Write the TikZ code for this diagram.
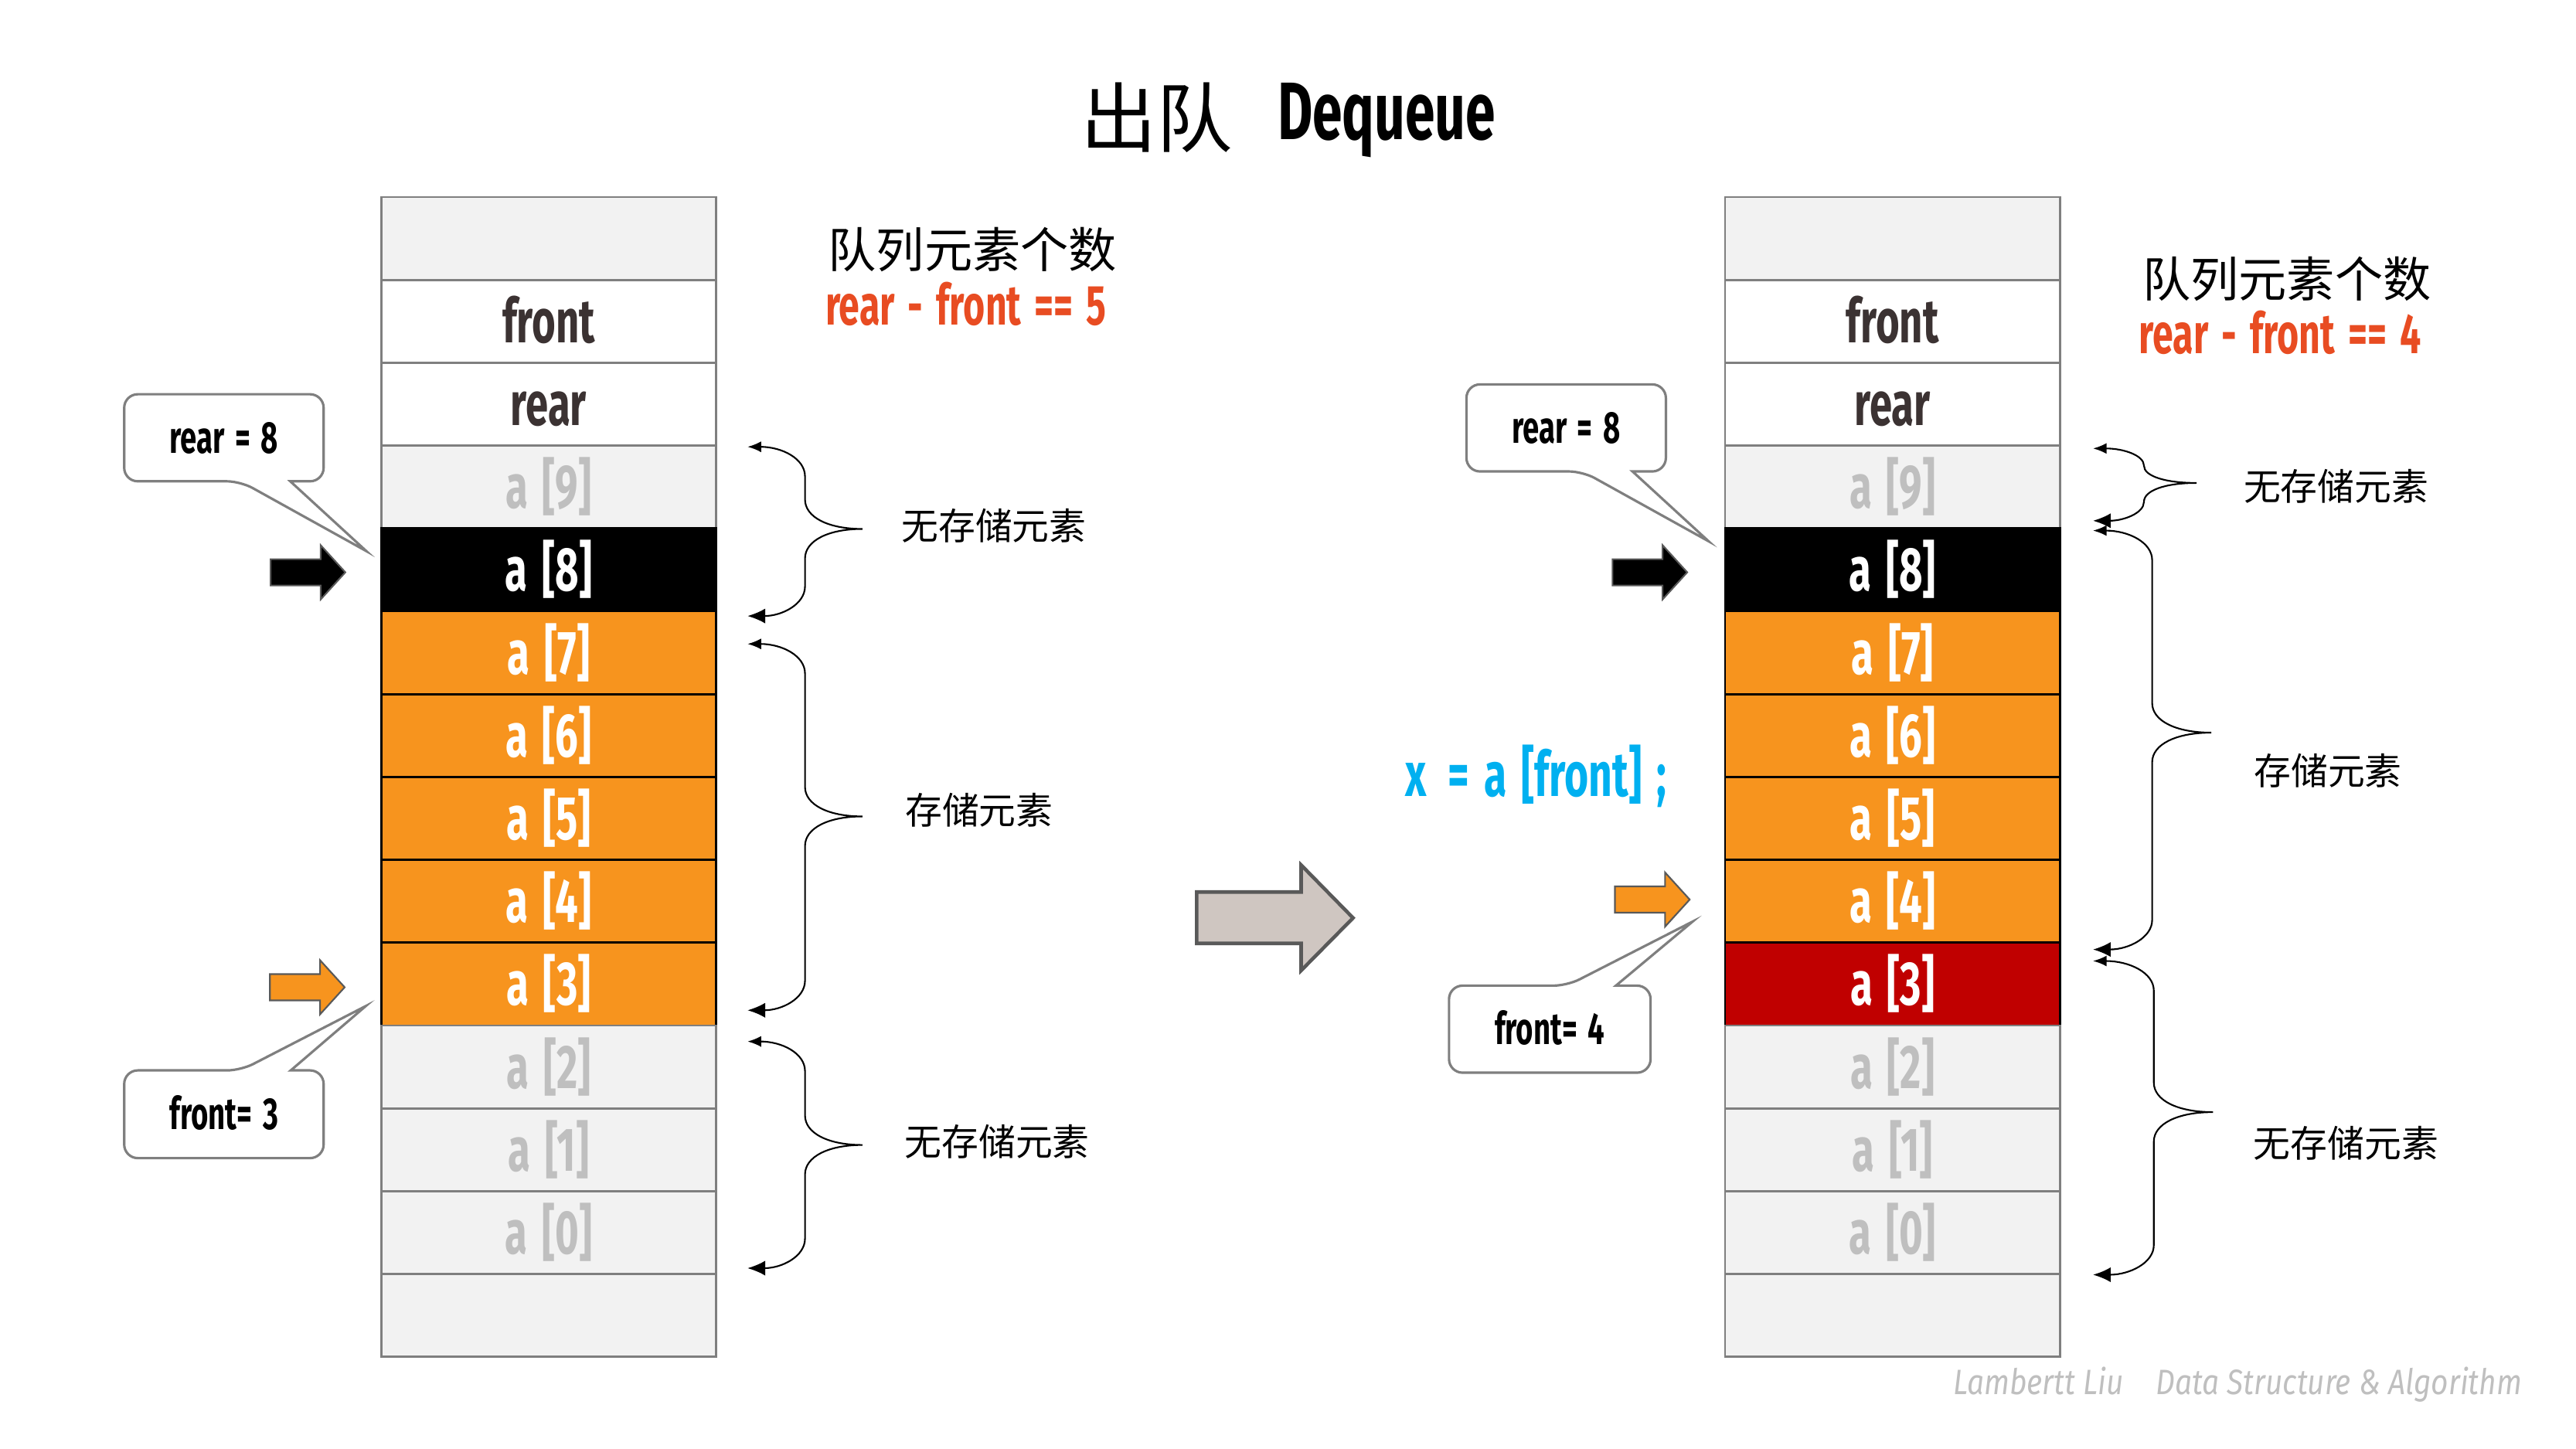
\documentclass[tikz,border=0pt]{standalone}
\usepackage{fontspec}
\usepackage{xcolor}
\usepackage{tikz}
\usetikzlibrary{arrows.meta,positioning,calc}
\newfontfamily\agency[FakeStretch=0.66,WordSpace=1.5]{Fira Sans}
\newfontfamily\markfont[FakeStretch=0.85]{Fira Sans}
\newfontfamily\cjk{Noto Sans CJK SC}
\definecolor{qorange}{RGB}{247,148,30}
\definecolor{qred}{RGB}{192,0,0}
\definecolor{cellfill}{RGB}{242,242,242}
\definecolor{cellgray}{RGB}{127,127,127}
\definecolor{idxgray}{RGB}{191,191,191}
\definecolor{labeldark}{RGB}{59,50,50}
\definecolor{countred}{RGB}{232,76,34}
\definecolor{codecyan}{RGB}{0,176,240}
\definecolor{arrowgray}{RGB}{207,198,193}
\definecolor{edgegray}{RGB}{89,89,89}
\tikzset{
  cell/.style={minimum width=4.336cm, minimum height=1.072cm, inner sep=0pt, line width=0.8pt,
    font=\agency\bfseries\fontsize{22.7}{24}\selectfont, text height=15.6pt, text depth=0pt},
  gcell/.style={cell, draw=cellgray, fill=cellfill, text=idxgray},
  wcell/.style={cell, draw=cellgray, fill=white, text=labeldark},
  bcell/.style={cell, draw=black, fill=black, text=white},
  ocell/.style={cell, draw=black, fill=qorange, text=white},
  rcell/.style={cell, draw=black, fill=qred, text=white},
  callout/.style={draw=cellgray, line width=0.9pt, fill=white},
  calltext/.style={font=\agency\bfseries\fontsize{16.5}{18}\selectfont, text height=11.2pt, text depth=0pt, inner sep=0pt},
  countcn/.style={font=\cjk\fontsize{17.7}{19}\selectfont},
  countred/.style={font=\agency\bfseries\fontsize{20.8}{23}\selectfont, text=countred, anchor=base},
  bracelbl/.style={font=\cjk\fontsize{13.6}{15}\selectfont},
  brace/.style={{Latex[length=5pt,width=4pt]}-{Latex[length=6.5pt,width=5.5pt]}, line width=0.6pt},
  ptr/.style={draw=edgegray, line width=0.6pt},
}
\begin{document}
\begin{tikzpicture}[x=0.21256mm,y=-0.21256mm]
  \useasboundingbox (0,0) rectangle (1568,882);
  % title
  \node[font=\cjk\fontsize{28}{28}\selectfont] (ttlcn) at (704,71.4) {出队};
  \node[font=\agency\bfseries\fontsize{30}{30}\selectfont, anchor=base] (ttlen) at (844,84.7) {Dequeue};
  % the two arrays, before and after
  \foreach \k/\txt/\sl/\sr in {0//gcell/gcell, 1/front/wcell/wcell, 2/rear/wcell/wcell,
      3/a [9]/gcell/gcell, 4/a [8]/bcell/bcell, 5/a [7]/ocell/ocell, 6/a [6]/ocell/ocell,
      7/a [5]/ocell/ocell, 8/a [4]/ocell/ocell, 9/a [3]/ocell/rcell, 10/a [2]/gcell/gcell,
      11/a [1]/gcell/gcell, 12/a [0]/gcell/gcell, 13//gcell/gcell} {
    \node[\sl] (L\k) at (334,{120+50.43*(\k+0.5)}) {\txt};
    \node[\sr] (R\k) at (1152,{120+50.43*(\k+0.5)}) {\txt};
  }
  % element counts
  \node[countcn] (cntL) at (592,152) {队列元素个数};
  \node[countred] (cntLf) at (588,198) {rear - front == 5};
  \node[countcn] (cntR) at (1392,170) {队列元素个数};
  \node[countred] (cntRf) at (1388,215) {rear - front == 4};
  % braces
  \foreach \tx/\ty/\by/\vx/\mx/\my [count=\n] in {455/272/375/490/525/322, 455/392/615/490/525/497,
      455/634/772/490/525/697, 1274/273/317/1305/1337/294, 1274/323/578/1310/1346/446,
      1274/585/776/1311/1347/677} {
    \pgfmathsetmacro\ha{min(18,(\my-\ty)/2)}
    \pgfmathsetmacro\hb{min(18,(\by-\my)/2)}
    \coordinate (bt\n) at (\tx,\ty);
    \coordinate (bm\n) at (\mx,\my);
    \coordinate (bb\n) at (\tx,\by);
    \draw[brace] (bt\n) .. controls ({\tx+0.6*(\vx-\tx)},\ty) and (\vx,{\ty+0.4*\ha}) .. (\vx,{\ty+\ha})
      -- (\vx,{\my-\ha}) .. controls (\vx,{\my-0.4*\ha}) and ({\vx+0.4*(\mx-\vx)},\my) .. (bm\n)
      .. controls ({\vx+0.4*(\mx-\vx)},\my) and (\vx,{\my+0.4*\hb}) .. (\vx,{\my+\hb})
      -- (\vx,{\by-\hb}) .. controls (\vx,{\by-0.4*\hb}) and ({\tx+0.6*(\vx-\tx)},\by) .. (bb\n);
  }
  \node[bracelbl] (freeLt) at (605,320) {无存储元素};
  \node[bracelbl] (usedL) at (596,493) {存储元素};
  \node[bracelbl] (freeLb) at (607,695) {无存储元素};
  \node[bracelbl] (freeRt) at (1422,296) {无存储元素};
  \node[bracelbl] (usedR) at (1417,469) {存储元素};
  \node[bracelbl] (freeRb) at (1428,696) {无存储元素};
  % pointer arrows
  \foreach \x/\y/\c in {164.7/348.4/black, 164.3/601/qorange, 981.5/348.4/black, 983/547.6/qorange} {
    \draw[ptr, fill=\c] (\x,{\y-8}) -- ({\x+30.5},{\y-8}) -- ({\x+30.5},{\y-16.5}) -- ({\x+45.5},\y)
      -- ({\x+30.5},{\y+16.5}) -- ({\x+30.5},{\y+8}) -- (\x,{\y+8}) -- cycle;
  }
  % callouts
  \draw[callout] (136,240) [rounded corners=5pt] -- (75.6,240) -- (75.6,293) -- (146.4,293)
    [sharp corners] -- (223,335.5) -- (176.7,293) [rounded corners=5pt] -- (197,293) -- (197,240) -- cycle;
  \node[calltext] (rearL) at (136.3,266.5) {rear = 8};
  \draw[callout] (136,705) [rounded corners=5pt] -- (75.6,705) -- (75.6,651.6) -- (146.6,651.6)
    [sharp corners] -- (222.7,612.4) -- (177,651.6) [rounded corners=5pt] -- (197,651.6) -- (197,705) -- cycle;
  \node[calltext] (frontL) at (136.3,678.3) {front= 3};
  \draw[callout] (953,234) [rounded corners=5pt] -- (892.6,234) -- (892.6,287) -- (963.4,287)
    [sharp corners] -- (1040,329.5) -- (993.7,287) [rounded corners=5pt] -- (1014,287) -- (1014,234) -- cycle;
  \node[calltext] (rearR) at (953.3,260.5) {rear = 8};
  \draw[callout] (943,653) [rounded corners=5pt] -- (882,653) -- (882,600) -- (954,600)
    [sharp corners] -- (1030.3,561) -- (983.6,600) [rounded corners=5pt] -- (1004.7,600) -- (1004.7,653) -- cycle;
  \node[calltext] (frontR) at (943.3,626.5) {front= 4};
  % dequeue step
  \node[font=\agency\bfseries\fontsize{23}{25}\selectfont, text=codecyan, anchor=base] (deq) at (935,484.6)
    {x\hspace{8pt}= a [front] ;};
  \draw[draw=edgegray, line width=1.3pt, fill=arrowgray] (728.4,543) -- (792,543) -- (792,526.6)
    -- (823.6,558.8) -- (792,590.8) -- (792,574.3) -- (728.4,574.3) -- cycle;
  \node[font=\markfont\itshape\fontsize{13}{15}\selectfont, text=idxgray] (mark) at (1362,843)
    {Lambertt Liu\hspace{12pt}Data Structure \& Algorithm};
\end{tikzpicture}
\end{document}
